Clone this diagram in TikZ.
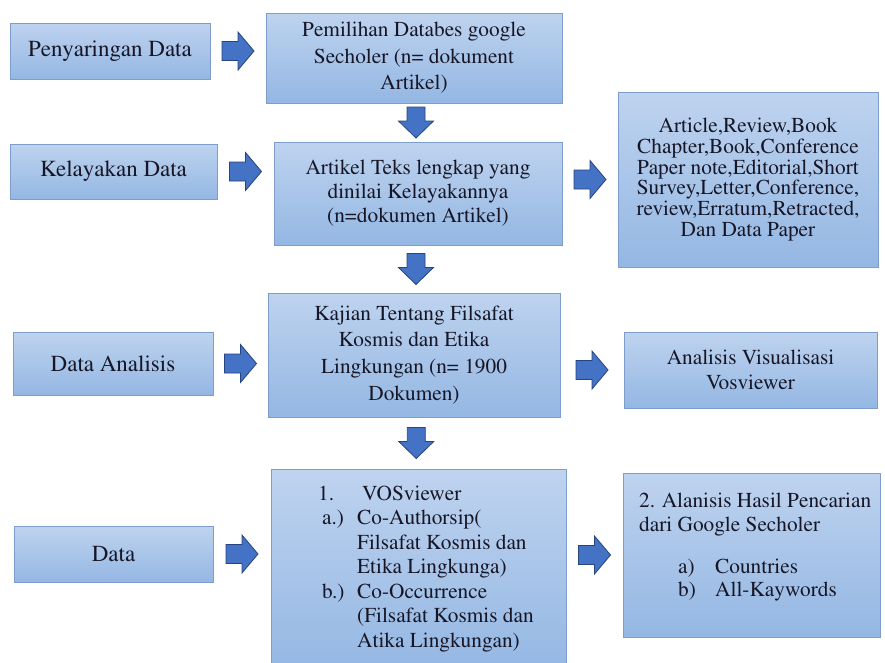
\documentclass[tikz,border=0pt]{standalone}
\usepackage[T1]{fontenc}
\renewcommand{\rmdefault}{ptm}
\usepackage{tikz}
\usetikzlibrary{calc}
\definecolor{boxtop}{RGB}{190,211,239}
\definecolor{boxbot}{RGB}{148,183,227}
\definecolor{boxline}{RGB}{125,158,202}
\definecolor{arrowfill}{RGB}{68,114,196}
\definecolor{arrowline}{RGB}{38,68,128}
\definecolor{inkdark}{RGB}{22,22,38}

\begin{document}
\begin{tikzpicture}[x=1pt,y=-1pt]

		\tikzset{
			stagebox/.style={draw=boxline, line width=0.6pt, top color=boxtop, bottom color=boxbot, inner sep=0pt, align=center, text=inkdark},
			leftbox/.style={stagebox, font=\fontsize{23}{26}\selectfont},
			midbox/.style={stagebox, font=\fontsize{21.3}{24.5}\selectfont},
			listtext/.style={inner sep=0pt, anchor=base west, text=inkdark},
			blockarrow/.style={draw=arrowline, fill=arrowfill, line width=0.8pt},
			rarrow/.style={
				insert path={+(-16,-9.5) -- +(0,-9.5) -- +(0,-19) -- +(16,0) -- +(0,19) -- +(0,9.5) -- +(-16,9.5) -- cycle}
			},
			darrow/.style={
				insert path={+(-9,-15.5) -- +(-9,-1.5) -- +(-17.5,-1.5) -- +(0,15.5) -- +(17.5,-1.5) -- +(9,-1.5) -- +(9,-15.5) -- cycle}
			}
		}

		\path[use as bounding box, clip] (0,0) rectangle (885,662);

		% stages on the left

		\node[leftbox, minimum width=200, minimum height=56] (saring) at (110,51) {Penyaringan Data};
		\node[leftbox, minimum width=207, minimum height=55] (layak) at (113.5,171.5) {Kelayakan Data};
		\node[leftbox, minimum width=200, minimum height=63] (analisis) at (113,363.5) {Data Analisis};
		\node[leftbox, minimum width=199, minimum height=56] (data) at (113.5,554) {Data};

		% middle column

		\node[midbox, minimum width=296, minimum height=90, font=\fontsize{21.3}{26.5}\selectfont] (pilih) at (414,58) {Pemilihan Databes google\\Secholer (n= dokument\\Artikel)};
		\node[midbox, minimum width=288, minimum height=103, font=\fontsize{21.3}{24}\selectfont] (artikel) at (418,193.5) {Artikel Teks lengkap yang\\dinilai Kelayakannya\\(n=dokumen Artikel)};
		\node[midbox, minimum width=292, minimum height=124, font=\fontsize{21.3}{26.7}\selectfont] (kajian) at (414,355) {Kajian Tentang Filsafat\\Kosmis dan Etika\\Lingkungan (n= 1900\\Dokumen)};
		\node[midbox, minimum width=295, minimum height=203] (vos) at (418.5,570.5) {};
		\node[listtext, font=\fontsize{21.3}{24.5}\selectfont] (vostext) at (318,500) {\begin{tabular}[t]{@{}l@{}}
			\makebox[44pt][l]{1.}VOSviewer\\
			\hspace*{4pt}\makebox[35pt][l]{a.)}Co-Authorsip(\\
			\hspace*{39pt}Filsafat Kosmis dan\\
			\hspace*{39pt}Etika Lingkunga)\\
			\hspace*{4pt}\makebox[35pt][l]{b.)}Co-Occurrence\\
			\hspace*{39pt}(Filsafat Kosmis dan\\
			\hspace*{39pt}Atika Lingkungan)
		\end{tabular}};

		% right column

		\node[midbox, minimum width=260, minimum height=175, font=\fontsize{21.3}{20.8}\selectfont] (jenis) at (748,179.5) {Article,Review,Book\\Chapter,Book,Conference\\Paper note,Editorial,Short\\Survey,Letter,Conference,\\review,Erratum,Retracted,\\Dan Data Paper};
		\node[midbox, minimum width=253, minimum height=76, font=\fontsize{21.3}{25}\selectfont] (visual) at (750.5,370) {Analisis Visualisasi\\Vosviewer};
		\node[midbox, minimum width=257, minimum height=164] (hasil) at (751.5,555) {};
		\node[listtext, font=\fontsize{21.3}{24}\selectfont] (hasiltext) at (639,507) {\begin{tabular}[t]{@{}l@{}}
			2. Alanisis Hasil Pencarian\\
			dari Google Secholer\\[18pt]
			\hspace*{39pt}\makebox[37pt][l]{a)}Countries\\[-1pt]
			\hspace*{39pt}\makebox[37pt][l]{b)}All-Kaywords
		\end{tabular}};

		% block arrows

		\draw[blockarrow] ($(saring.east)!0.5!(saring.east -| pilih.west)$) [rarrow];
		\draw[blockarrow] ($(layak.east)!0.5!(layak.east -| artikel.west)$) [rarrow];
		\draw[blockarrow] ($(analisis.east)!0.5!(analisis.east -| kajian.west)$) [rarrow];
		\draw[blockarrow] ($(data.east)!0.5!(data.east -| vos.west)$) [rarrow];

		\draw[blockarrow] ($(pilih.south)!0.5!(artikel.north)$) [darrow];
		\draw[blockarrow] ($(artikel.south)!0.5!(kajian.north)$) [darrow];
		\draw[blockarrow] ($(kajian.south)!0.5!(vos.north)$) [darrow];

		\draw[blockarrow] ($(jenis.west)!0.5!(jenis.west -| artikel.east)$) [rarrow];
		\draw[blockarrow] ($(visual.west)!0.5!(visual.west -| kajian.east)$) [rarrow];
		\draw[blockarrow] ($(hasil.west)!0.5!(hasil.west -| vos.east)$) [rarrow];

\end{tikzpicture}
\end{document}
